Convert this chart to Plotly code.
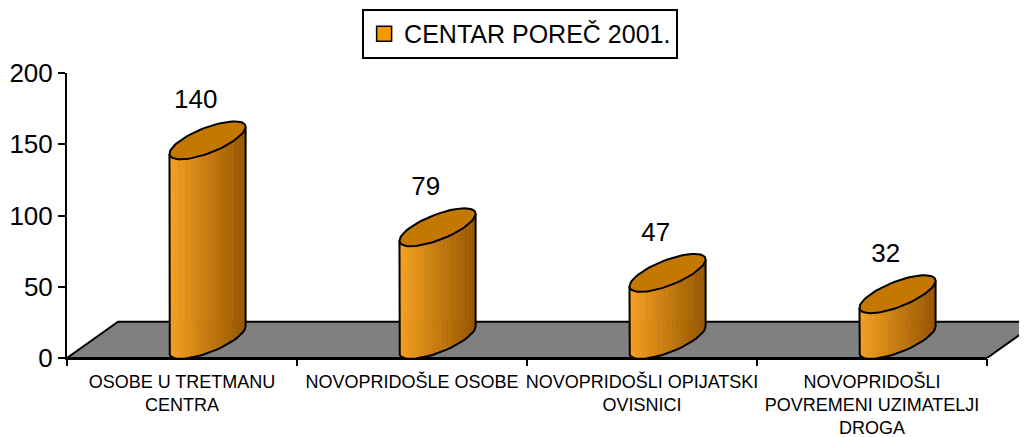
import numpy as np
import plotly.graph_objects as go

# ---- data ----
categories = [
    "OSOBE U TRETMANU<br>CENTRA",
    "NOVOPRIDOŠLE OSOBE",
    "NOVOPRIDOŠLI OPIJATSKI<br>OVISNICI",
    "NOVOPRIDOŠLI<br>POVREMENI UZIMATELJI<br>DROGA",
]
values = [140, 79, 47, 32]
series_name = "CENTAR POREČ 2001."
y_ticks = [0, 50, 100, 150, 200]

# ---- geometry / style (data units of the axes) ----
DEPTH_DX = 0.222      # oblique depth, x units
DEPTH_DY = 25.5       # oblique depth, y units
R_A = 0.117           # ellipse horizontal semi-axis
R_BX = 0.117          # ellipse depth-axis, x component
R_BY = 13.3           # ellipse depth-axis, y component
LABEL_DX = 0.06
LABEL_DY = 40
N_STRIPS = 26
FONT = "Liberation Sans, Arial, sans-serif"

n = len(categories)
idx = np.arange(n)
x_range_wide = [-0.5, -0.5 + 960 / 230]


def ell(cx, cy, t):
    return cx + R_A * np.cos(t) + R_BX * np.sin(t), cy + R_BY * np.sin(t)


fig = go.Figure()

# floor
fx = [-0.5, n - 0.5, n - 0.5 + DEPTH_DX, -0.5 + DEPTH_DX, -0.5]
fy = [0, 0, DEPTH_DY, DEPTH_DY, 0]
fig.add_trace(go.Scatter(x=fx, y=fy, mode="lines", fill="toself",
                         fillcolor="#808080", line=dict(color="black", width=2),
                         hoverinfo="skip", showlegend=False))

t0, t1 = np.deg2rad(225), np.deg2rad(405)
tt = np.linspace(t0, t1, N_STRIPS + 1)
c_left = np.array([248, 162, 34])
c_right = np.array([150, 86, 0])
xs_sil = R_A * np.cos(tt) + R_BX * np.sin(tt)
xmin, xmax = xs_sil.min(), xs_sil.max()

# body strips
for k in range(N_STRIPS):
    sx, sy = [], []
    for i, v in zip(idx, values):
        cx = i + DEPTH_DX / 2
        yb = DEPTH_DY / 2
        yt = v + DEPTH_DY / 2
        xa, ya = ell(cx, yb, tt[k])
        xb, yb2 = ell(cx, yb, tt[k + 1])
        xc, yc = ell(cx, yt, tt[k + 1])
        xd, yd = ell(cx, yt, tt[k])
        sx += [xa, xb, xc, xd, xa, None]
        sy += [ya, yb2, yc, yd, ya, None]
    fmid = ((xs_sil[k] + xs_sil[k + 1]) / 2 - xmin) / (xmax - xmin)
    col = c_left + (c_right - c_left) * fmid
    colstr = "rgb(%d,%d,%d)" % tuple(col.astype(int))
    fig.add_trace(go.Scatter(x=sx, y=sy, mode="lines", fill="toself",
                             fillcolor=colstr, line=dict(color=colstr, width=0.6),
                             hoverinfo="skip", showlegend=False))

# body outline
ox, oy = [], []
for i, v in zip(idx, values):
    cx = i + DEPTH_DX / 2
    yb = DEPTH_DY / 2
    yt = v + DEPTH_DY / 2
    bx, by = ell(cx, yb, tt)
    tx0, ty0 = ell(cx, yt, tt[0])
    tx1, ty1 = ell(cx, yt, tt[-1])
    ox += [tx0] + list(bx) + [tx1, None]
    oy += [ty0] + list(by) + [ty1, None]
fig.add_trace(go.Scatter(x=ox, y=oy, mode="lines", line=dict(color="black", width=2),
                         hoverinfo="skip", showlegend=False))

# top ellipses
ta = np.linspace(0, 2 * np.pi, 73)
ex, ey = [], []
for i, v in zip(idx, values):
    cx = i + DEPTH_DX / 2
    yt = v + DEPTH_DY / 2
    px, py = ell(cx, yt, ta)
    ex += list(px) + [None]
    ey += list(py) + [None]
fig.add_trace(go.Scatter(x=ex, y=ey, mode="lines", fill="toself",
                         fillcolor="#C47800", line=dict(color="black", width=2),
                         hoverinfo="skip", showlegend=False))

# data labels (on category axis)
fig.add_trace(go.Scatter(x=idx + LABEL_DX, y=np.array(values) + LABEL_DY,
                         xaxis="x2", yaxis="y", mode="text",
                         text=[str(v) for v in values], textposition="middle center",
                         textfont=dict(size=26, color="black", family=FONT),
                         cliponaxis=False, hoverinfo="skip", showlegend=False))

# legend entry
fig.add_trace(go.Scatter(x=[None], y=[None], mode="markers", name=series_name,
                         marker=dict(symbol="square", size=15, color="#F59B00",
                                     line=dict(color="black", width=1.5)),
                         showlegend=True))

# page body has an 8px default margin; the figure is offset accordingly
fig.update_layout(
    width=1019, height=429,
    margin=dict(l=59, r=0, t=65, b=79),
    paper_bgcolor="white", plot_bgcolor="rgba(0,0,0,0)",
    font=dict(family=FONT, color="black"),
    showlegend=True,
    legend=dict(orientation="h", x=0.472, xanchor="center", y=1.225, yanchor="top",
                bordercolor="black", borderwidth=2, bgcolor="white",
                font=dict(size=25, family=FONT), itemwidth=30),
    xaxis=dict(domain=[0, 1], range=x_range_wide, showgrid=False, zeroline=False,
               showline=False, tickmode="array",
               tickvals=[i - 0.5 for i in range(n + 1)], ticktext=[""] * (n + 1),
               ticks="outside", ticklen=7, tickwidth=2, tickcolor="black"),
    xaxis2=dict(domain=[0, 920 / 960], range=[-0.5, n - 0.5], anchor="y",
                showgrid=False, zeroline=False, showline=True, linewidth=2,
                linecolor="black", tickmode="array", tickvals=list(idx),
                ticktext=categories, ticks="", tickangle=0,
                tickfont=dict(size=18, family=FONT), ticklabelstandoff=6),
    yaxis=dict(range=[0, 200], tickmode="array", tickvals=y_ticks,
               showgrid=False, zeroline=False, showline=True, linewidth=2,
               linecolor="black", ticks="outside", ticklen=7, tickwidth=2,
               tickcolor="black", tickfont=dict(size=26, family=FONT)),
)

fig.write_html("out.html")
